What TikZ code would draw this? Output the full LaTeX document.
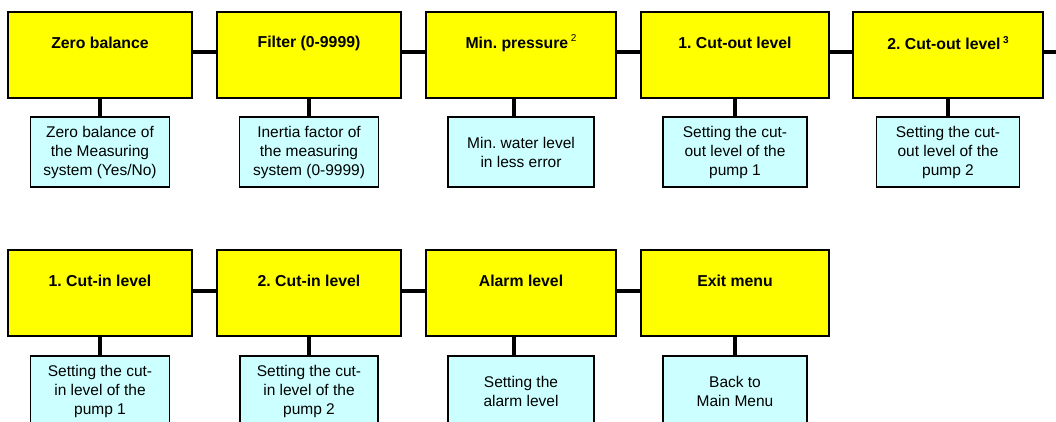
\documentclass[tikz,border=0pt]{standalone}
\usepackage{fontspec}
\setmainfont{Liberation Sans}
\definecolor{boxyellow}{HTML}{FFFF00}
\definecolor{boxcyan}{HTML}{CCFFFF}
\tikzset{
  ybox/.style={draw=black, line width=1.7pt, fill=boxyellow, minimum height=86pt, inner sep=0pt},
  cbox/.style={draw=black, line width=1.7pt, fill=boxcyan, minimum height=70pt, inner sep=0pt,
    align=center, font=\fontsize{15.5}{19}\selectfont},
  ttl/.style={font=\bfseries\fontsize{15.8}{19}\selectfont, yshift=12pt},
  conn/.style={line width=4pt, line cap=butt},
}
\newcommand{\sups}[1]{\raisebox{6.5pt}{\fontsize{10}{10}\selectfont #1}}
\begin{document}
\frenchspacing
\begin{tikzpicture}[x=1pt,y=-1pt]
\useasboundingbox (0,0) rectangle (1056,422);
\clip (0,0) rectangle (1056,422);
% top row
\node[ybox, minimum width=184pt, label={[ttl]center:Zero balance}] (y1) at (100,55) {};
\node[ybox, minimum width=184pt, label={[ttl]center:Filter (0-9999)}] (y2) at (309,55) {};
\node[ybox, minimum width=190pt, label={[ttl]center:Min. pressure\,\sups{\mdseries 2}}] (y3) at (521,55) {};
\node[ybox, minimum width=188pt, label={[ttl]center:1. Cut-out level}] (y4) at (735,55) {};
\node[ybox, minimum width=190pt, label={[ttl]center:2. Cut-out level\,\sups{\bfseries 3}}] (y5) at (948,55) {};
\coordinate (rend) at (1058,52);

\node[cbox, minimum width=139pt] (c1) at (100,152) {Zero balance of\\the Measuring\\system (Yes/No)};
\node[cbox, minimum width=139pt] (c2) at (309,152) {Inertia factor of\\the measuring\\system (0-9999)};
\node[cbox, minimum width=146pt] (c3) at (521,152) {Min. water level\\in less error};
\node[cbox, minimum width=144pt] (c4) at (735,152) {Setting the cut-\\out level of the\\pump 1};
\node[cbox, minimum width=143pt] (c5) at (948,152) {Setting the cut-\\out level of the\\pump 2};

% bottom row
\node[ybox, minimum width=184pt, label={[ttl]center:1. Cut-in level}] (y6) at (100,293) {};
\node[ybox, minimum width=184pt, label={[ttl]center:2. Cut-in level}] (y7) at (309,293) {};
\node[ybox, minimum width=190pt, label={[ttl]center:Alarm level}] (y8) at (521,293) {};
\node[ybox, minimum width=188pt, label={[ttl]center:Exit menu}] (y9) at (735,293) {};

\node[cbox, minimum width=139pt] (c6) at (100,391) {Setting the cut-\\in level of the\\pump 1};
\node[cbox, minimum width=138pt] (c7) at (309,391) {Setting the cut-\\in level of the\\pump 2};
\node[cbox, minimum width=146pt] (c8) at (521,391) {Setting the\\alarm level};
\node[cbox, minimum width=144pt] (c9) at (735,391) {Back to\\Main Menu};

% horizontal connectors
\foreach \a/\b in {y1/y2,y2/y3,y3/y4,y4/y5}
  \draw[conn] ([yshift=3pt]\a.east) -- ([yshift=3pt]\b.west);
\draw[conn] ([yshift=3pt]y5.east) -- (rend);
\foreach \a/\b in {y6/y7,y7/y8,y8/y9}
  \draw[conn] ([yshift=2pt]\a.east) -- ([yshift=2pt]\b.west);

% vertical connectors
\foreach \a/\b in {y1/c1,y2/c2,y4/c4,y5/c5,y6/c6,y7/c7,y9/c9}
  \draw[conn] (\a.south) -- (\b.north);
\draw[conn] ([xshift=-7pt]y3.south) -- ([xshift=-7pt]c3.north);
\draw[conn] ([xshift=-7pt]y8.south) -- ([xshift=-7pt]c8.north);
\end{tikzpicture}
\end{document}
